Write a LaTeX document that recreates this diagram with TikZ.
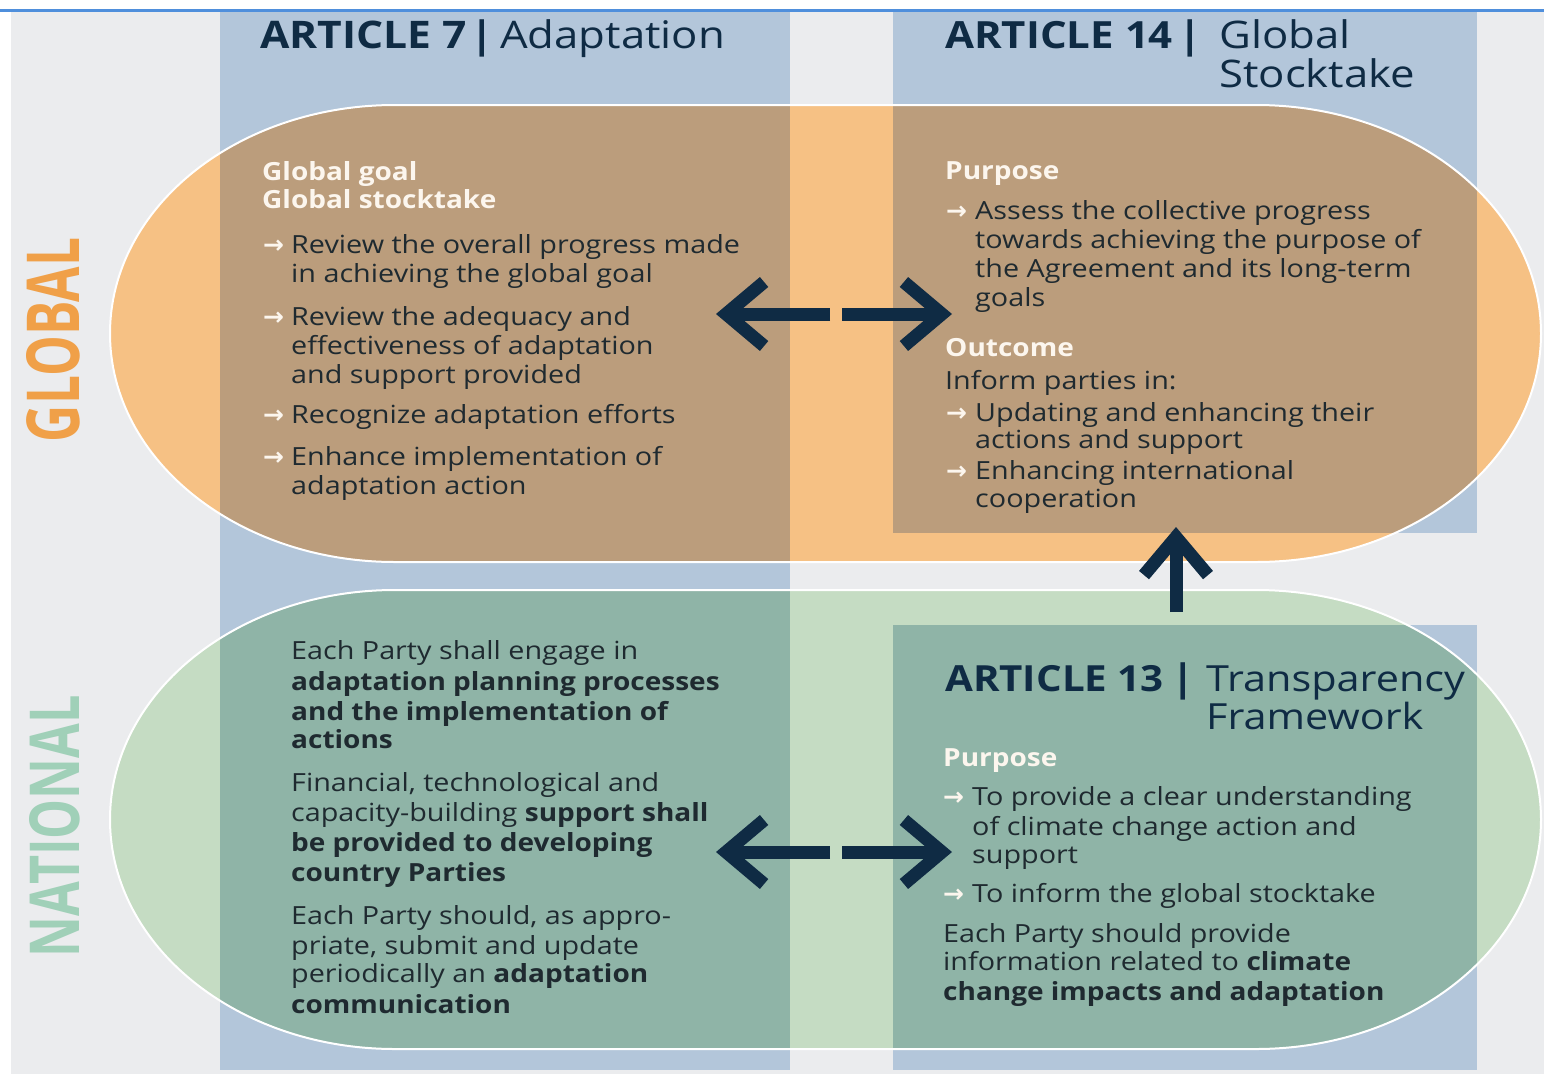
\documentclass[tikz,border=0pt]{standalone}
\usepackage{fontspec}
\setmainfont{Open Sans}[FakeStretch=1.15, BoldFeatures={FakeStretch=1.12}]
\newfontfamily\arrfont{DejaVu Sans}
\usetikzlibrary{arrows.meta}
\definecolor{bggray}{HTML}{EBECEE}
\definecolor{colblue}{HTML}{B3C6DA}
\definecolor{lorange}{HTML}{F6C184}
\definecolor{tan}{HTML}{BB9D7C}
\definecolor{lgreen}{HTML}{C5DCC3}
\definecolor{teal}{HTML}{8FB4A7}
\definecolor{navy}{HTML}{0F2B44}
\definecolor{txtdark}{HTML}{1F2A30}
\definecolor{subwhite}{HTML}{FCF6EE}
\definecolor{globorange}{HTML}{F0A048}
\definecolor{natgreen}{HTML}{A0D0B8}
\definecolor{topline}{HTML}{4F8FDC}
\tikzset{
  body/.style={anchor=base west, inner sep=0pt, font=\fontsize{25}{30}\selectfont, text=txtdark},
  sub/.style={anchor=base west, inner sep=0pt, font=\fontsize{25}{28}\selectfont\bfseries, text=subwhite},
  hdr/.style={anchor=base west, inner sep=0pt, font=\fontsize{38}{44}\selectfont, text=navy},
  hbar/.style={anchor=base, inner sep=0pt, font=\fontsize{38}{44}\selectfont\bfseries, text=navy},
  bul/.style={anchor=base west, inner sep=0pt, font=\fontsize{25}{28}\selectfont\arrfont\bfseries, text=subwhite},
  side/.style={rotate=90, inner sep=0pt, font=\bfseries},
  bigarrow/.style={line width=13pt, draw=navy, -{Straight Barb[length=38pt,width=64pt]}},
}
\begin{document}
\begin{tikzpicture}[x=1pt,y=-1pt]
\useasboundingbox (0,0) rectangle (1544,1076);
\fill[white] (0,0) rectangle (1544,1076);
\fill[bggray] (11,12) rectangle (1544,1074);
\fill[topline] (0,9) rectangle (1544,12);
% blue columns
\fill[colblue] (220,12) rectangle (790,1070);
\fill[colblue] (893,12) rectangle (1477,533);
\fill[colblue] (893,625) rectangle (1477,1070);
% global shape
\fill[lorange] (395,105) -- (1256,105) arc[start angle=-90,end angle=90,x radius=285,y radius=228.5] -- (395,562) arc[start angle=90,end angle=270,x radius=285,y radius=228.5] -- cycle;
\begin{scope}
\clip (395,105) -- (1256,105) arc[start angle=-90,end angle=90,x radius=285,y radius=228.5] -- (395,562) arc[start angle=90,end angle=270,x radius=285,y radius=228.5] -- cycle;
\fill[tan] (220,12) rectangle (790,1070);
\fill[tan] (893,12) rectangle (1477,533);
\end{scope}
\draw[white, line width=2pt] (395,105) -- (1256,105) arc[start angle=-90,end angle=90,x radius=285,y radius=228.5] -- (395,562) arc[start angle=90,end angle=270,x radius=285,y radius=228.5] -- cycle;
% national shape
\fill[lgreen] (395,590) -- (1256,590) arc[start angle=-90,end angle=90,x radius=285,y radius=229.5] -- (395,1049) arc[start angle=90,end angle=270,x radius=285,y radius=229.5] -- cycle;
\begin{scope}
\clip (395,590) -- (1256,590) arc[start angle=-90,end angle=90,x radius=285,y radius=229.5] -- (395,1049) arc[start angle=90,end angle=270,x radius=285,y radius=229.5] -- cycle;
\fill[teal] (220,12) rectangle (790,1070);
\fill[teal] (893,625) rectangle (1477,1070);
\end{scope}
\draw[white, line width=2pt] (395,590) -- (1256,590) arc[start angle=-90,end angle=90,x radius=285,y radius=229.5] -- (395,1049) arc[start angle=90,end angle=270,x radius=285,y radius=229.5] -- cycle;

% side labels
\node[side, text=globorange] (glob) at (53.5,340) {\resizebox{204pt}{53pt}{GLOBAL}};
\node[side, text=natgreen] (nat) at (55,826) {\resizebox{262pt}{50pt}{NATIONAL}};

% headers
\node[hdr, font=\fontsize{38}{44}\selectfont\bfseries] (h7a) at (260,48) {ARTICLE 7};
\node[hbar] (h7b) at (482,48) {|};
\node[hdr] (h7c) at (500,48) {Adaptation};
\node[hdr, font=\fontsize{37.5}{44}\selectfont\bfseries] (h14a) at (945,48) {ARTICLE 14};
\node[hbar] (h14b) at (1190,48) {|};
\node[hdr] (h14c) at (1219,48) {Global};
\node[hdr] (h14d) at (1219,87) {Stocktake};
\node[hdr, font=\fontsize{36}{44}\selectfont\bfseries] (h13a) at (945,691) {ARTICLE 13};
\node[hbar] (h13b) at (1183,691) {|};
\node[hdr, font=\fontsize{36}{44}\selectfont] (h13c) at (1206,691) {Transparency};
\node[hdr, font=\fontsize{36}{44}\selectfont] (h13d) at (1206,729) {Framework};

% top-left
\node[sub] (s1) at (262,180) {Global goal};
\node[sub] (s2) at (262,208) {Global stocktake};
\node[bul] (b1) at (263,253) {→};
\node[body] (t1) at (291,253) {Review the overall progress made};
\node[body] (t2) at (291,282) {in achieving the global goal};
\node[bul] (b2) at (263,325) {→};
\node[body] (t3) at (291,325) {Review the adequacy and};
\node[body] (t4) at (291,354) {effectiveness of adaptation};
\node[body] (t5) at (291,383) {and support provided};
\node[bul] (b3) at (263,423) {→};
\node[body] (t6) at (291,423) {Recognize adaptation efforts};
\node[bul] (b4) at (263,465) {→};
\node[body] (t7) at (291,465) {Enhance implementation of};
\node[body] (t8) at (291,494) {adaptation action};

% top-right
\node[sub] (s3) at (945,179) {Purpose};
\node[bul] (b5) at (946,219) {→};
\node[body] (r1) at (975,219) {Assess the collective progress};
\node[body] (r2) at (975,248) {towards achieving the purpose of};
\node[body] (r3) at (975,277) {the Agreement and its long-term};
\node[body] (r4) at (975,306) {goals};
\node[sub] (s4) at (945,356) {Outcome};
\node[body] (r5) at (945,389) {Inform parties in:};
\node[bul] (b6) at (946,421) {→};
\node[body] (r6) at (975,421) {Updating and enhancing their};
\node[body] (r7) at (975,448) {actions and support};
\node[bul] (b7) at (946,479) {→};
\node[body] (r8) at (975,479) {Enhancing international};
\node[body] (r9) at (975,507) {cooperation};

% bottom-left
\node[body] (n1) at (291,659) {Each Party shall engage in};
\node[body] (n2) at (291,690) {\bfseries adaptation planning processes};
\node[body] (n3) at (291,720) {\bfseries and the implementation of};
\node[body] (n4) at (291,748) {\bfseries actions};
\node[body] (n5) at (291,791) {Financial, technological and};
\node[body] (n6) at (291,821) {capacity-building \textbf{support shall}};
\node[body] (n7) at (291,851) {\bfseries be provided to developing};
\node[body] (n8) at (291,881) {\bfseries country Parties};
\node[body] (n9) at (291,924) {Each Party should, as appro-};
\node[body] (n10) at (291,954) {priate, submit and update};
\node[body] (n11) at (291,982) {periodically an \textbf{adaptation}};
\node[body] (n12) at (291,1013) {\bfseries communication};

% bottom-right
\node[sub] (s5) at (943,766) {Purpose};
\node[bul] (b8) at (943,805) {→};
\node[body] (m1) at (972,805) {To provide a clear understanding};
\node[body] (m2) at (972,835) {of climate change action and};
\node[body] (m3) at (972,863) {support};
\node[bul] (b9) at (943,902) {→};
\node[body] (m4) at (972,902) {To inform the global stocktake};
\node[body] (m5) at (943,942) {Each Party should provide};
\node[body] (m6) at (943,970) {information related to \textbf{climate}};
\node[body] (m7) at (943,1000) {\bfseries change impacts and adaptation};

% arrows
\coordinate (a1s) at (830,314); \coordinate (a1e) at (716,314);
\coordinate (a2s) at (842,314); \coordinate (a2e) at (952,314);
\coordinate (a3s) at (830,852); \coordinate (a3e) at (716,852);
\coordinate (a4s) at (842,852); \coordinate (a4e) at (952,852);
\coordinate (a5s) at (1176,612); \coordinate (a5e) at (1176,527);
\draw[bigarrow] (a1s) -- (a1e);
\draw[bigarrow] (a2s) -- (a2e);
\draw[bigarrow] (a3s) -- (a3e);
\draw[bigarrow] (a4s) -- (a4e);
\draw[bigarrow] (a5s) -- (a5e);
\end{tikzpicture}
\end{document}
